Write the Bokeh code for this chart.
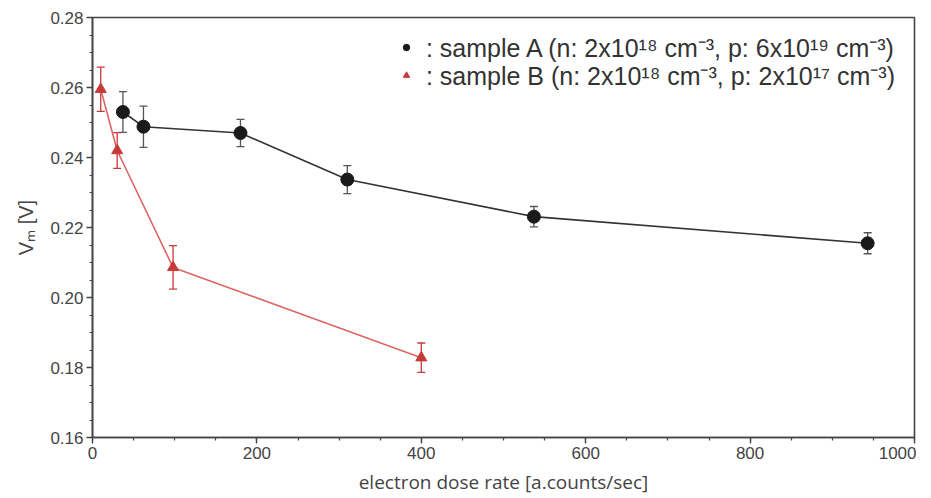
from bokeh.plotting import figure
from bokeh.models import (ColumnDataSource, Whisker, TeeHead, Legend, LegendItem,
                          Range1d, FixedTicker, CustomJSTickFormatter)
from bokeh.embed import file_html
from bokeh.resources import INLINE

# ---- data ----
a_x = [37, 62, 180, 310, 537, 943]
a_y = [0.2530, 0.2488, 0.2470, 0.2337, 0.2231, 0.2155]
a_err = [0.0058, 0.0059, 0.0039, 0.0040, 0.0029, 0.0030]

b_x = [10, 30, 98, 400]
b_y = [0.2595, 0.2420, 0.2086, 0.1828]
b_err = [0.0063, 0.0051, 0.0062, 0.0042]

x_ticks = [0, 200, 400, 600, 800, 1000]
y_ticks = [0.16, 0.18, 0.20, 0.22, 0.24, 0.26, 0.28]

label_a = " : sample A (n: 2x10\u00b9\u2078 cm\u207b\u00b3, p: 6x10\u00b9\u2079 cm\u207b\u00b3)"
label_b = " : sample B (n: 2x10\u00b9\u2078 cm\u207b\u00b3, p: 2x10\u00b9\u2077 cm\u207b\u00b3)"
x_title = "electron dose rate [a.counts/sec]"
y_title = "V\u2098 [V]"

BLACK = "#1a1a1a"
RED_M = "#c83a3a"
RED_L = "#dd6666"
AXC = "#444444"

src_a = ColumnDataSource(dict(x=a_x, y=a_y,
                              lo=[v - e for v, e in zip(a_y, a_err)],
                              hi=[v + e for v, e in zip(a_y, a_err)]))
src_b = ColumnDataSource(dict(x=b_x, y=b_y,
                              lo=[v - e for v, e in zip(b_y, b_err)],
                              hi=[v + e for v, e in zip(b_y, b_err)]))

p = figure(frame_width=822, frame_height=420, output_backend="svg",
           toolbar_location=None,
           x_range=Range1d(0, 1000), y_range=Range1d(0.16, 0.28),
           min_border_left=92, min_border_right=2, min_border_top=17,
           min_border_bottom=54)
p.background_fill_color = "white"
p.border_fill_color = "white"
p.grid.visible = False
p.outline_line_color = AXC
p.outline_line_width = 1.6

for ax in (p.xaxis[0], p.yaxis[0]):
    ax.axis_line_color = AXC
    ax.axis_line_width = 1.6
    ax.major_tick_line_color = AXC
    ax.minor_tick_line_color = AXC
    ax.major_tick_line_width = 1.4
    ax.minor_tick_line_width = 1.2
    ax.major_tick_out = 6
    ax.major_tick_in = 0
    ax.minor_tick_out = 3
    ax.minor_tick_in = 0
    ax.major_label_text_font = "Liberation Sans"
    ax.major_label_text_font_size = "17px"
    ax.major_label_text_color = AXC

p.xaxis.ticker = FixedTicker(ticks=x_ticks,
                             minor_ticks=[v for v in range(0, 1001, 50)])
p.yaxis.ticker = FixedTicker(ticks=y_ticks,
                             minor_ticks=[round(0.16 + i * 0.005, 3) for i in range(25)])
p.yaxis.formatter = CustomJSTickFormatter(code="return tick.toFixed(2);")
p.xaxis.major_label_standoff = 3
p.yaxis.major_label_standoff = 3

p.xaxis.axis_label = x_title
p.xaxis.axis_label_text_font = "Open Sans"
p.xaxis.axis_label_text_font_style = "normal"
p.xaxis.axis_label_text_font_size = "19px"
p.xaxis.axis_label_text_color = AXC
p.xaxis.axis_label_standoff = 7

p.yaxis.axis_label = y_title
p.yaxis.axis_label_text_font = "Liberation Sans"
p.yaxis.axis_label_text_font_style = "normal"
p.yaxis.axis_label_text_font_size = "20px"
p.yaxis.axis_label_text_color = AXC
p.yaxis.axis_label_standoff = 10

# lines
p.line("x", "y", source=src_a, line_color="#333333", line_width=1.6)
p.line("x", "y", source=src_b, line_color=RED_L, line_width=1.6)

# error bars
wa = Whisker(source=src_a, base="x", lower="lo", upper="hi", dimension="height",
             line_color="#555555", line_width=1.3,
             upper_head=TeeHead(size=8, line_color="#555555", line_width=1.3),
             lower_head=TeeHead(size=8, line_color="#555555", line_width=1.3))
wb = Whisker(source=src_b, base="x", lower="lo", upper="hi", dimension="height",
             line_color=RED_M, line_width=1.3,
             upper_head=TeeHead(size=8, line_color=RED_M, line_width=1.3),
             lower_head=TeeHead(size=8, line_color=RED_M, line_width=1.3))
p.add_layout(wa)
p.add_layout(wb)

ra = p.scatter("x", "y", source=src_a, marker="circle", size=13,
               fill_color=BLACK, line_color=BLACK)
rb = p.scatter("x", "y", source=src_b, marker="triangle", size=11,
               fill_color=RED_M, line_color=RED_M)


def make_legend(label, rend, loc):
    lg = Legend(items=[LegendItem(label=label, renderers=[rend])], location=loc)
    lg.border_line_color = None
    lg.background_fill_alpha = 0
    lg.label_text_font = "Liberation Sans"
    lg.label_text_font_size = "25px"
    lg.label_text_color = "#333333"
    lg.glyph_width = 26
    lg.glyph_height = 16
    lg.label_height = 20
    lg.spacing = 0
    lg.label_standoff = 0
    lg.padding = 4
    lg.margin = 0
    return lg


p.add_layout(make_legend(label_a, ra, (301, 373)))
p.add_layout(make_legend(label_b, rb, (301, 345)))

open("out.html", "w").write(file_html(p, INLINE))
